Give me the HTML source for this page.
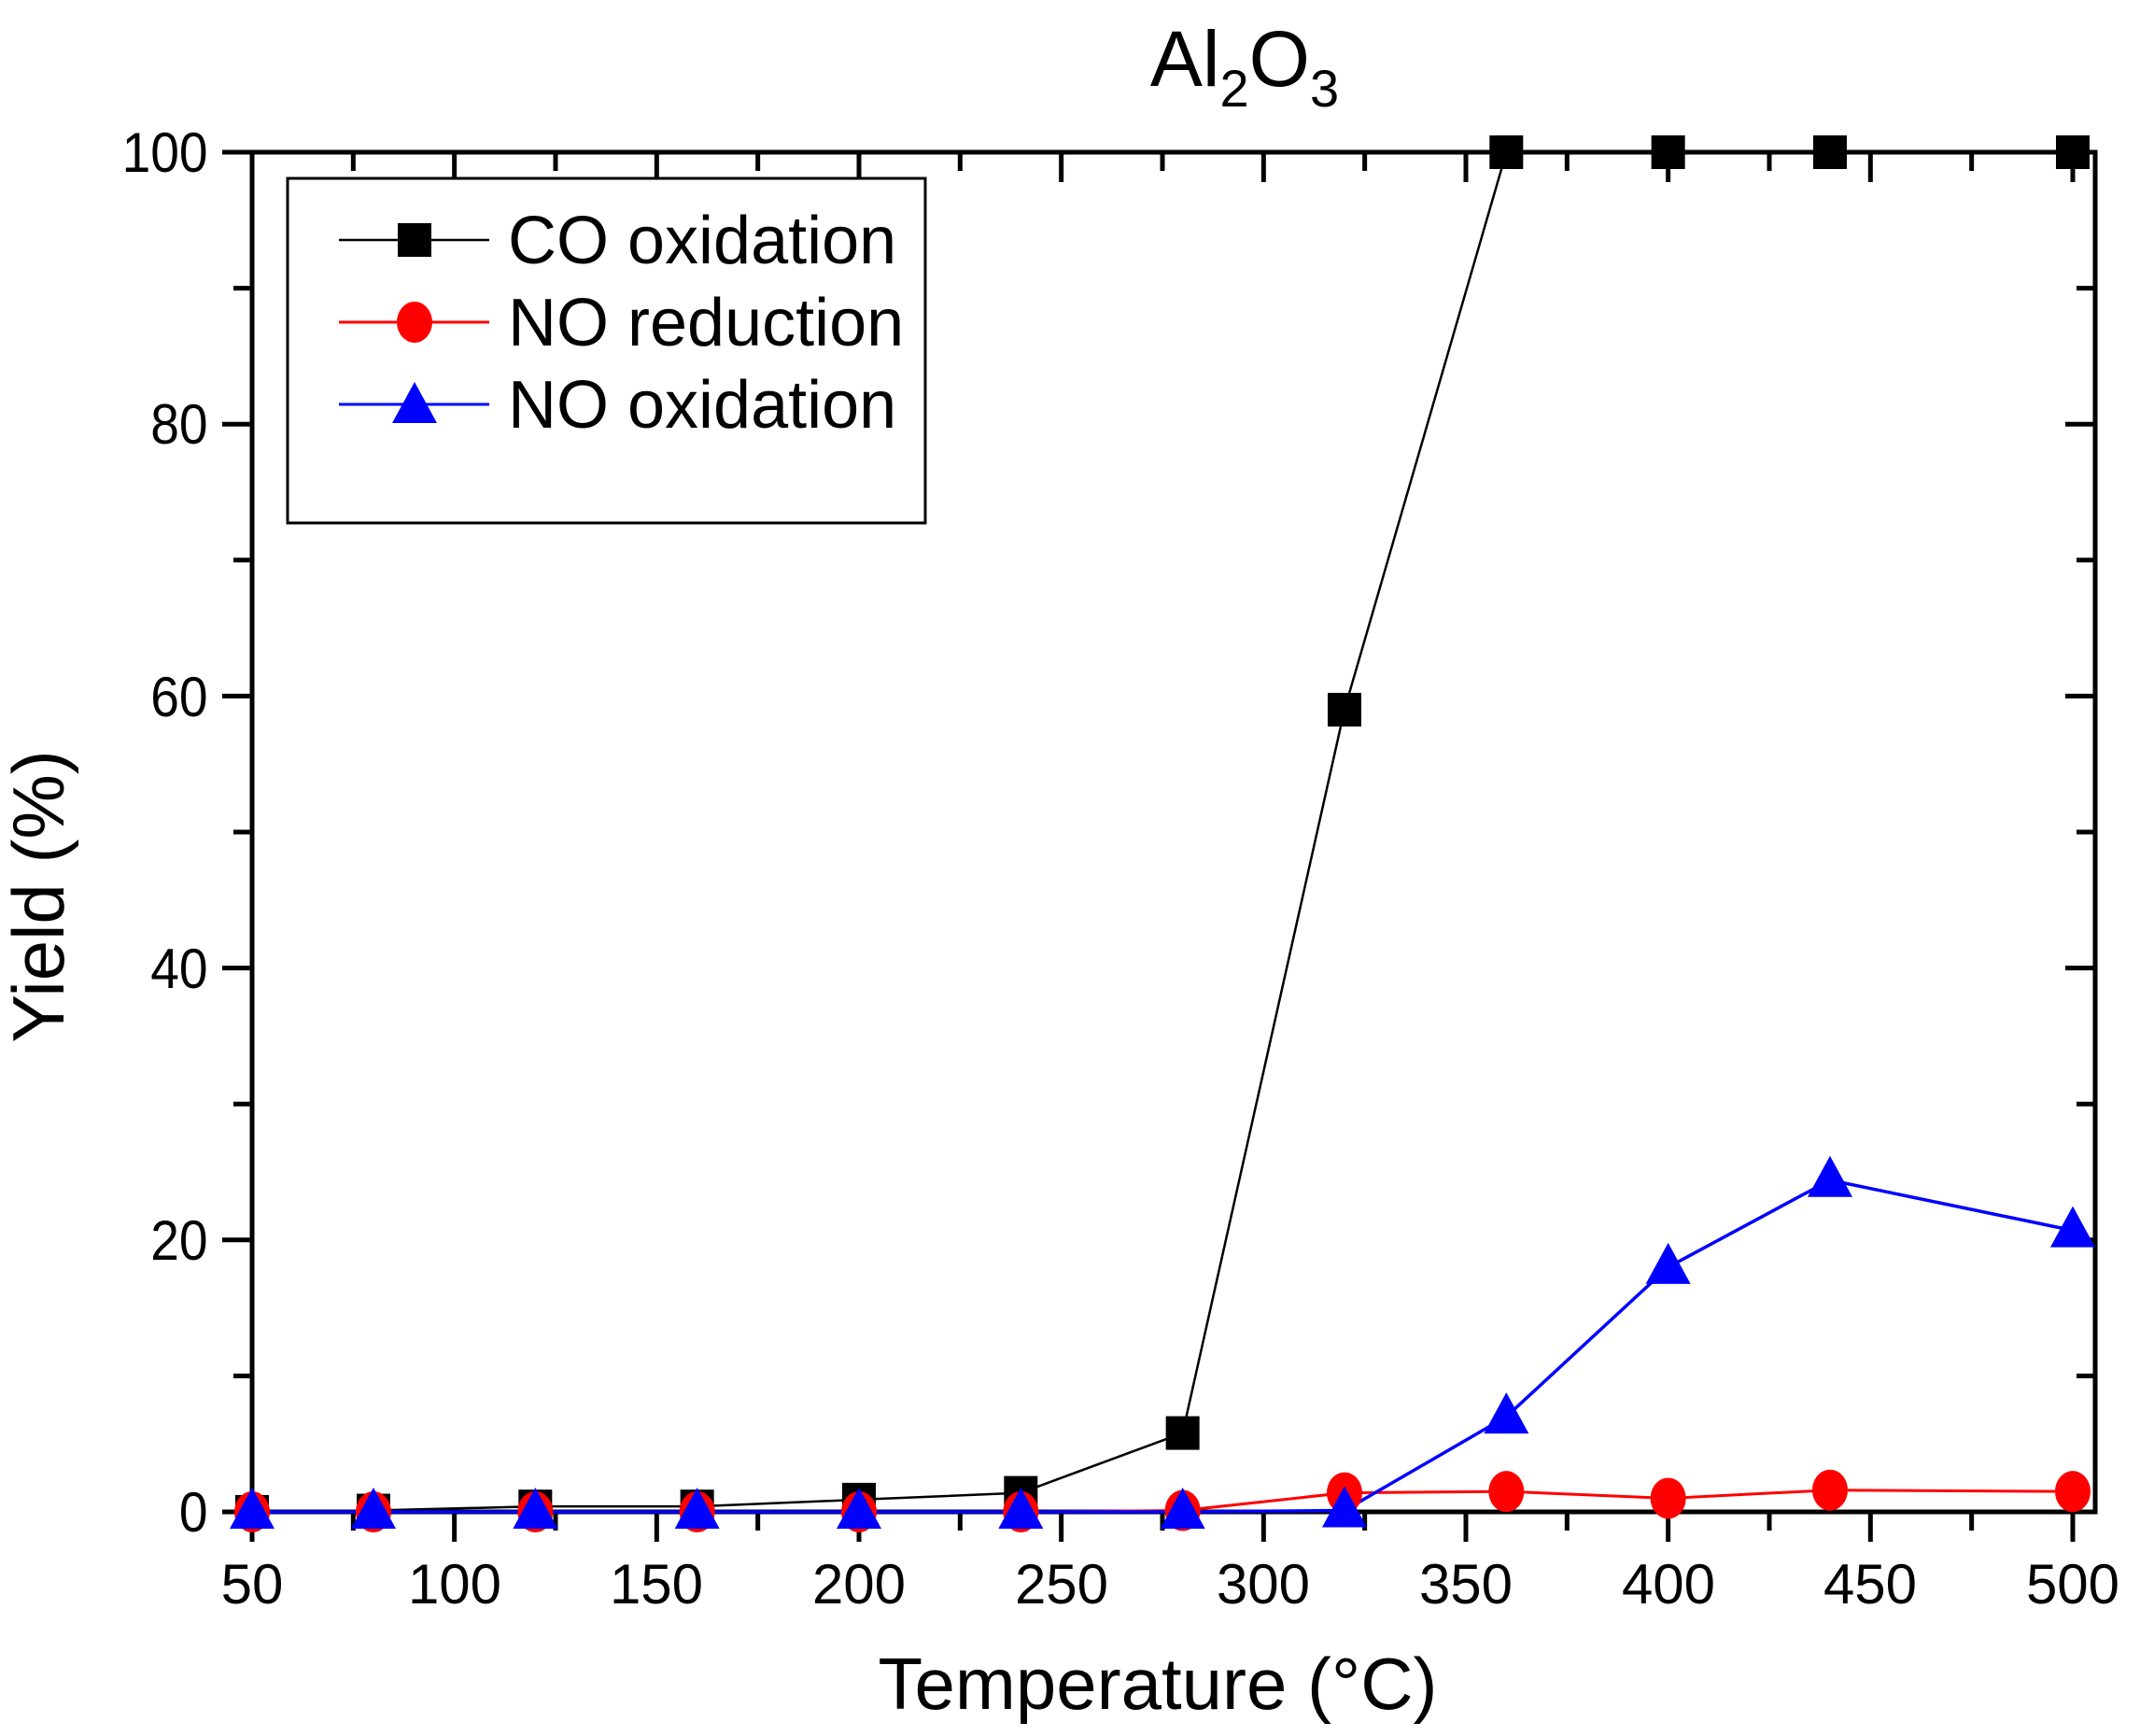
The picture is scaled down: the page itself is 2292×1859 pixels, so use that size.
<!DOCTYPE html>
<html><head><meta charset="utf-8"><style>
html,body{margin:0;padding:0;background:#fff;}
svg{display:block;}
text{font-family:"Liberation Sans",Arial,sans-serif;fill:#000;}
</style></head><body>
<svg id="s" width="2292" height="1859" viewBox="0 0 2292 1859" xmlns="http://www.w3.org/2000/svg">
<rect width="2292" height="1859" fill="#fff"/>
<g id="ticks" stroke="#000" stroke-width="5"></g>
<rect x="270" y="163" width="1974" height="1456" fill="none" stroke="#000" stroke-width="5"/>
<text x="1333" y="92" font-size="84" text-anchor="middle">Al<tspan font-size="56" dy="22">2</tspan><tspan dy="-22">O</tspan><tspan font-size="56" dy="22">3</tspan></text>
<g font-size="60" text-anchor="end" transform="scale(0.92,1)">
<text x="242" y="184">100</text>
<text x="242" y="475">80</text>
<text x="242" y="767">60</text>
<text x="242" y="1058">40</text>
<text x="242" y="1349">20</text>
<text x="242" y="1640">0</text>
</g>
<g font-size="60" text-anchor="middle">
<text x="270" y="1717">50</text>
<text x="487" y="1717">100</text>
<text x="703" y="1717">150</text>
<text x="920" y="1717">200</text>
<text x="1137" y="1717">250</text>
<text x="1353" y="1717">300</text>
<text x="1570" y="1717">350</text>
<text x="1787" y="1717">400</text>
<text x="2003" y="1717">450</text>
<text x="2220" y="1717">500</text>
</g>
<text x="1240" y="1830" font-size="78" text-anchor="middle">Temperature (°C)</text>
<text transform="translate(68,960) rotate(-90)" font-size="78" text-anchor="middle">Yield (%)</text>
<g id="data"></g>
<rect x="308" y="191" width="683" height="369" fill="#fff" stroke="#000" stroke-width="3"/>
<line x1="363" y1="257" x2="524" y2="257" stroke="#000" stroke-width="2.5"/>
<rect x="426" y="239" width="36" height="36" fill="#000"/>
<line x1="363" y1="345" x2="524" y2="345" stroke="#f00" stroke-width="3"/>
<ellipse cx="444" cy="345" rx="19" ry="22" fill="#f00"/>
<line x1="363" y1="433" x2="524" y2="433" stroke="#00f" stroke-width="3"/>
<polygon points="444,409 468,453 420,453" fill="#00f"/>
<g font-size="72">
<text x="544" y="282">CO oxidation</text>
<text x="544" y="370">NO reduction</text>
<text x="544" y="458">NO oxidation</text>
</g>
</svg>
<script>
var NS="http://www.w3.org/2000/svg";
function el(p,t,a){var e=document.createElementNS(NS,t);for(var k in a)e.setAttribute(k,a[k]);p.appendChild(e);return e;}
var T=document.getElementById("ticks"),D=document.getElementById("data");
function X(t){return 270+(t-50)*4.3333;}function Y(v){return 1619-v*14.56;}
for(var v=0;v<=100;v+=10){var maj=v%20==0,L=maj?32:20,y=Y(v);
 el(T,"line",{x1:270-L,y1:y,x2:270,y2:y});el(T,"line",{x1:2244-L,y1:y,x2:2244,y2:y});}
for(var t=50;t<=500;t+=25){var maj=(t%50==0),L=maj?32:20,x=X(t);
 el(T,"line",{x1:x,y1:1619,x2:x,y2:1619+L});el(T,"line",{x1:x,y1:163,x2:x,y2:163+L});}
var xs=[50,80,120,160,200,240,280,320,360,400,440,500];
var co=[0,0.1,0.4,0.4,0.9,1.4,5.8,59,100,100,100,100];
var nr=[0,0,0,0,0,0,0.1,1.4,1.5,1.0,1.6,1.5];
var no=[0,0,0,0,0,0,0,0.1,7,18,24.4,20.7];
function pl(a,c,w){var p=xs.map(function(t,i){return X(t)+","+Y(a[i]);}).join(" ");el(D,"polyline",{points:p,fill:"none",stroke:c,"stroke-width":w});}
pl(co,"#000",2.5);pl(nr,"#f00",3);pl(no,"#00f",3.5);
xs.forEach(function(t,i){var x=X(t);
 var y=Y(co[i]);el(D,"rect",{x:x-18,y:y-18,width:36,height:36,fill:"#000"});});
xs.forEach(function(t,i){var x=X(t),y=Y(nr[i]);el(D,"ellipse",{cx:x,cy:y,rx:19,ry:22,fill:"#f00"});});
xs.forEach(function(t,i){var x=X(t),y=Y(no[i]);el(D,"polygon",{points:x+","+(y-26)+" "+(x+24)+","+(y+18)+" "+(x-24)+","+(y+18),fill:"#00f"});});
</script>
</body></html>
